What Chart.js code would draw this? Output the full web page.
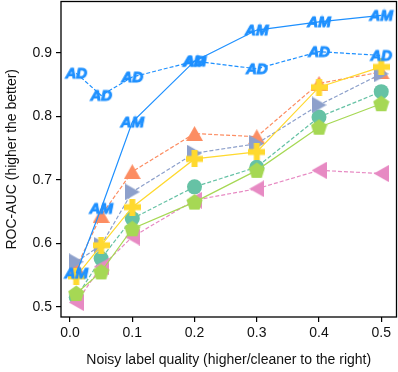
<!DOCTYPE html>
<html>
<head>
<meta charset="utf-8">
<script src="https://cdn.jsdelivr.net/npm/chart.js@4/dist/chart.umd.min.js"></script>
<style>
  html, body { margin: 0; padding: 0; background: #fff; }
  #wrap { width: 398px; height: 372px; }
</style>
</head>
<body>
<div id="wrap"><canvas id="chart" width="398" height="372"></canvas></div>
<script>
// noise quality levels (x)
const quality = [0.01, 0.05, 0.1, 0.2, 0.3, 0.4, 0.5];
const xTicks = [0.0, 0.1, 0.2, 0.3, 0.4, 0.5];
const yTicks = [0.5, 0.6, 0.7, 0.8, 0.9];

// ROC-AUC per method
const am = [0.553, 0.655, 0.791, 0.887, 0.936, 0.949, 0.959];
const ad = [0.868, 0.833, 0.862, 0.887, 0.875, 0.902, 0.896];
const orangeTri = [0.562, 0.644, 0.713, 0.773, 0.768, 0.852, 0.870];
const purpleTri = [0.571, 0.597, 0.681, 0.742, 0.757, 0.818, 0.867];
const yellowPlus = [0.548, 0.597, 0.657, 0.733, 0.744, 0.846, 0.878];
const tealCircle = [0.515, 0.576, 0.639, 0.689, 0.720, 0.799, 0.839];
const greenPent = [0.521, 0.555, 0.623, 0.665, 0.715, 0.783, 0.820];
const pinkTri = [0.507, 0.563, 0.610, 0.668, 0.686, 0.715, 0.710];

function marker(w, h, draw) {
  const c = document.createElement("canvas");
  c.width = w;
  c.height = h;
  draw(c.getContext("2d"), w, h);
  return c;
}

function textMarker(txt) {
  return marker(28, 18, (ctx, w, h) => {
    ctx.font = "bold italic 15px 'Liberation Sans', Arial, sans-serif";
    ctx.textAlign = "center";
    ctx.textBaseline = "middle";
    ctx.fillStyle = "#1e90ff";
    ctx.strokeStyle = "#1e90ff";
    ctx.lineWidth = 1;
    ctx.strokeText(txt, w / 2, h / 2 + 1);
    ctx.fillText(txt, w / 2, h / 2 + 1);
  });
}

function poly(ctx, pts, color) {
  ctx.fillStyle = color;
  ctx.beginPath();
  pts.forEach((p, i) => (i ? ctx.lineTo(p[0], p[1]) : ctx.moveTo(p[0], p[1])));
  ctx.closePath();
  ctx.fill();
}

const triUp = marker(17, 15, (ctx, w, h) => poly(ctx, [[w / 2, 0], [w, h], [0, h]], "#fc8d62"));
const triRight = marker(15, 17, (ctx, w, h) => poly(ctx, [[0, 0], [w, h / 2], [0, h]], "#8da0cb"));
const triLeft = marker(15, 17, (ctx, w, h) => poly(ctx, [[w, 0], [0, h / 2], [w, h]], "#e78ac3"));
const plus = marker(17, 17, (ctx) => {
  poly(ctx, [[5.5, 0], [11.5, 0], [11.5, 5.5], [17, 5.5], [17, 11.5], [11.5, 11.5],
             [11.5, 17], [5.5, 17], [5.5, 11.5], [0, 11.5], [0, 5.5], [5.5, 5.5]], "#ffd92f");
});
const pent = marker(17, 17, (ctx) => {
  const pts = [];
  for (let i = 0; i < 5; i++) {
    const a = -Math.PI / 2 + i * 2 * Math.PI / 5;
    pts.push([8.5 + 8.5 * Math.cos(a), 9 + 8.5 * Math.sin(a)]);
  }
  poly(ctx, pts, "#a6d854");
});

function series(data, color, style, dashed, radius) {
  return {
    data: quality.map((x, i) => ({ x: x, y: data[i] })),
    borderColor: color,
    backgroundColor: color,
    borderWidth: 1.2,
    borderDash: dashed ? [4, 2] : [],
    pointStyle: style,
    pointRadius: radius || 8,
    pointBorderWidth: 0,
    tension: 0,
  };
}

// first dataset is drawn on top
const datasets = [
  series(am, "#1e90ff", textMarker("AM"), false),
  series(ad, "#1e90ff", textMarker("AD"), true),
  series(yellowPlus, "#ffd92f", plus, false),
  series(purpleTri, "#8da0cb", triRight, true),
  series(orangeTri, "#fc8d62", triUp, true),
  series(greenPent, "#a6d854", pent, false),
  series(pinkTri, "#e78ac3", triLeft, true),
  series(tealCircle, "#66c2a5", "circle", true, 7.5),
];

const frame = {
  id: "frame",
  afterDatasetsDraw(chart) {
    const { ctx, chartArea: a } = chart;
    ctx.save();
    ctx.strokeStyle = "#000";
    ctx.lineWidth = 1.3;
    ctx.strokeRect(a.left, a.top, a.right - a.left, a.bottom - a.top);
    ctx.restore();
  },
};

const tickFont = { family: "'Liberation Sans', Arial, sans-serif", size: 14 };

new Chart(document.getElementById("chart"), {
  type: "line",
  data: { datasets: datasets },
  options: {
    responsive: false,
    animation: false,
    layout: { autoPadding: false, padding: { top: 1.5, right: 1.5, left: 0, bottom: 0 } },
    plugins: { legend: { display: false }, tooltip: { enabled: false } },
    scales: {
      x: {
        type: "linear",
        min: -0.0145,
        max: 0.5245,
        afterBuildTicks: (s) => { s.ticks = xTicks.map((v) => ({ value: v })); },
        afterFit: (s) => { s.height = 55; s.paddingLeft = 0; s.paddingRight = 0; },
        grid: { drawOnChartArea: false, color: "#000", lineWidth: 1.2, tickLength: 5 },
        border: { display: false },
        ticks: { color: "#111", font: tickFont, padding: 3, maxRotation: 0,
                 callback: (v) => v.toFixed(1) },
        title: { display: true, text: "Noisy label quality (higher/cleaner to the right)",
                 color: "#111", font: tickFont, padding: { top: 0, bottom: 3 } },
      },
      y: {
        min: 0.484,
        max: 0.981,
        afterBuildTicks: (s) => { s.ticks = yTicks.map((v) => ({ value: v })); },
        afterFit: (s) => { s.width = 61; s.paddingTop = 0; s.paddingBottom = 0; },
        grid: { drawOnChartArea: false, color: "#000", lineWidth: 1.2, tickLength: 5 },
        border: { display: false },
        ticks: { color: "#111", font: tickFont, padding: 4,
                 callback: (v) => v.toFixed(1) },
        title: { display: true, text: "ROC-AUC (higher the better)",
                 color: "#111", font: tickFont, padding: { top: 4, bottom: 0 } },
      },
    },
  },
  plugins: [frame],
});
</script>
</body>
</html>
